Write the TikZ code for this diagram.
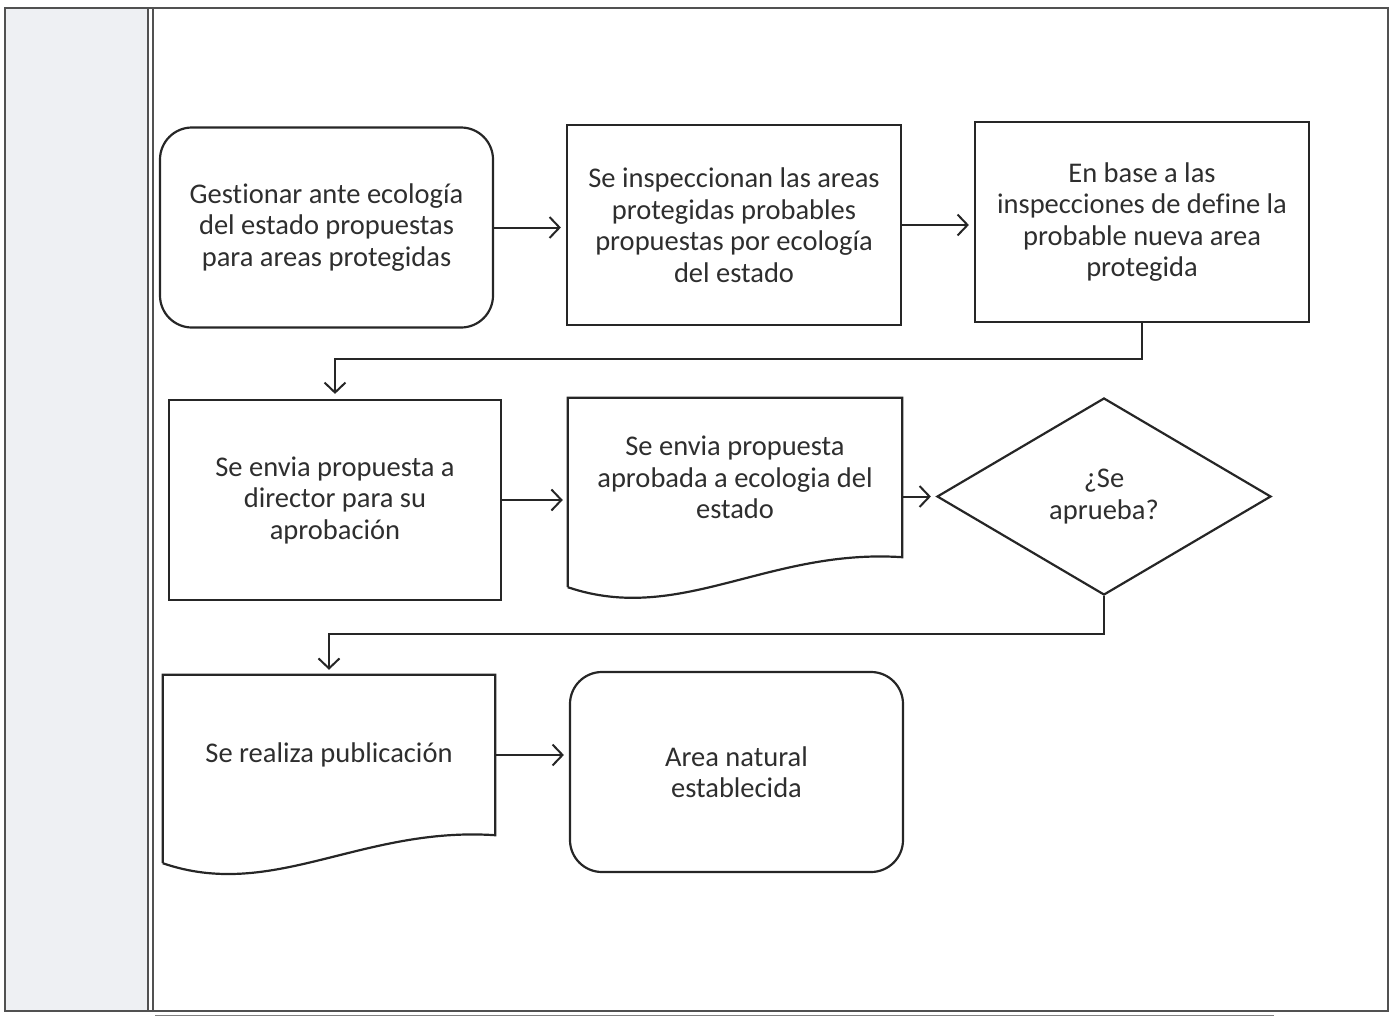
\documentclass[tikz,border=0pt]{standalone}
\usepackage{fontspec}
\setmainfont{Carlito}[Ligatures={NoCommon}]
\usetikzlibrary{arrows.meta,shapes.geometric,calc}
\definecolor{ink}{HTML}{262626}
\definecolor{txt}{HTML}{2E2E2E}
\definecolor{strip}{HTML}{EEF0F3}
\tikzset{
  every node/.style={font=\fontsize{28.5}{31.5}\selectfont, text=txt, align=center, inner sep=0pt},
  shp/.style={draw=ink, line width=2.2pt},
  procbox/.style={shp, rectangle, minimum width=334pt, minimum height=200pt},
  termbox/.style={shp, rectangle, rounded corners=32pt, minimum width=333pt, minimum height=200pt},
  docbox/.style={rectangle, minimum width=334pt},
  decbox/.style={shp, diamond, aspect=1.7, minimum width=334pt, minimum height=197pt},
  flow/.style={draw=ink, line width=2pt, -{Straight Barb[length=10pt,width=21pt,line width=2pt]}, shorten >=5pt},
  frame/.style={draw=ink!80, line width=1.2pt}
}
\begin{document}
\begin{tikzpicture}[x=1pt,y=-1pt]
\useasboundingbox (0,0) rectangle (1392,1017);
% page frame
\fill[strip] (5,8) rectangle (148,1011);
\draw[frame] (5,8) rectangle (1388,1011);
\draw[frame] (148,8) -- (148,1011);
\draw[frame] (153,8) -- (153,1011);
\draw[draw=gray, line width=1pt] (155,1015.5) -- (1274,1015.5);

% row 1
\node[termbox] (a) at (326.5,227.5) {Gestionar ante ecología\\del estado propuestas\\para areas protegidas};
\node[procbox] (b) at (734,225) {Se inspeccionan las areas\\protegidas probables\\propuestas por ecología\\del estado};
\node[procbox] (c) at (1142,222) {En base a las\\inspecciones de define la\\probable nueva area\\protegida};

% row 2
\node[procbox, minimum width=332pt] (d) at (335,500) {Se envia propuesta a\\director para su\\aprobación};
\node[docbox, minimum height=159pt] (e) at (735,477.5) {Se envia propuesta\\aprobada a ecologia del\\estado};
\draw[shp] ($(e.south west)+(0,30)$) -- (e.north west) -- (e.north east) -- (e.south east)
  .. controls ($(e.south west)+(200,-9)$) and ($(e.south west)+(112,68)$) .. ($(e.south west)+(0,30)$);
\node[decbox] (f) at (1104,496.5) {¿Se\\aprueba?};

% row 3
\node[docbox, minimum width=332pt, minimum height=160pt] (g) at (329,755) {Se realiza publicación};
\draw[shp] ($(g.south west)+(0,28)$) -- (g.north west) -- (g.north east) -- (g.south east)
  .. controls ($(g.south west)+(198,-9)$) and ($(g.south west)+(110,66)$) .. ($(g.south west)+(0,28)$);
\node[termbox] (h) at (736.5,772) {Area natural\\establecida};

% connectors
\draw[flow] (a.east) -- (b.west |- a.east);
\draw[flow] (b.east) -- (c.west |- b.east);
\draw[flow] (c.south) -- ++(0,36) -| (d.north);
\draw[flow] (d.east) -- (e.west |- d.east);
\draw[flow] (e.east |- f.west) -- (f.west);
\draw[flow] (f.south) -- ++(0,38) -| (g.north);
\draw[flow] (g.east) -- (h.west |- g.east);
\end{tikzpicture}
\end{document}
